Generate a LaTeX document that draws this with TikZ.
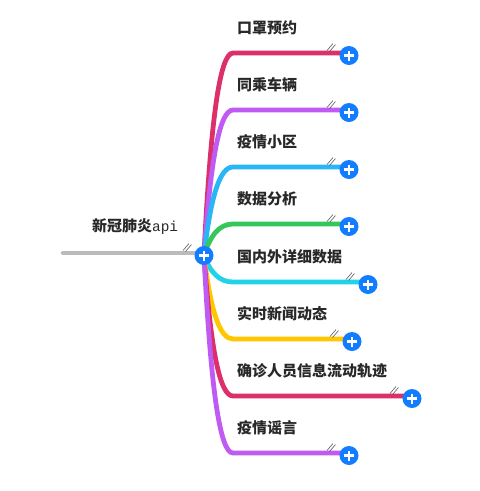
\documentclass[tikz,border=0pt]{standalone}
\usepackage{fontspec}
\newfontfamily\cjk{Noto Sans CJK SC}
\newfontfamily\monof{Liberation Mono}
\usetikzlibrary{calc}
\pgfdeclarelayer{bg}
\pgfsetlayers{bg,main}
\definecolor{cA}{RGB}{219,48,105}
\definecolor{cB}{RGB}{191,90,242}
\definecolor{cC}{RGB}{41,182,246}
\definecolor{cD}{RGB}{52,199,89}
\definecolor{cE}{RGB}{32,211,232}
\definecolor{cF}{RGB}{255,199,0}
\definecolor{rootgray}{RGB}{187,187,187}
\definecolor{btnblue}{RGB}{18,125,255}
\definecolor{txt}{RGB}{40,40,40}
\tikzset{
  plusbtn/.style={circle, fill=btnblue, minimum size=19pt, inner sep=0pt,
    path picture={
      \draw[white, line width=2.6pt] ([xshift=-5pt]path picture bounding box.center) -- ([xshift=5pt]path picture bounding box.center);
      \draw[white, line width=2.6pt] ([yshift=-5pt]path picture bounding box.center) -- ([yshift=5pt]path picture bounding box.center);
    }},
  branchline/.style={line width=4.8pt},
  hashm/.style={draw=black!65, line width=0.6pt},
  lbl/.style={anchor=west, inner sep=0pt, text=txt, font=\fontsize{15}{18}\cjk\bfseries},
}
\begin{document}
\begin{tikzpicture}[x=1pt,y=-1pt]
\useasboundingbox (0,0) rectangle (480,491);
% root
\coordinate (rl) at (63,253);
\node[plusbtn] (rp) at (204,255.5) {};
\node[anchor=west, inner sep=0pt, text=txt] (rt) at (92,227) {{\fontsize{15}{18}\cjk\bfseries 新冠肺炎}{\fontsize{14.4}{18}\monof api}};
\begin{pgfonlayer}{bg}
\draw[rootgray, line width=4.5pt, line cap=round] (rl) -- (rl -| rp.center);
\end{pgfonlayer}
\draw[hashm] ($(rp)+(-21,-5)$) -- +(6,-7);
\draw[hashm] ($(rp)+(-18.5,-4)$) -- +(6,-7);
% branches
\foreach \i/\y/\ex/\col/\txt in {
  1/53/349/cA/口罩预约,
  2/110/349/cB/同乘车辆,
  3/167/349/cC/疫情小区,
  4/224/349/cD/数据分析,
  5/282/368/cE/国内外详细数据,
  6/339/352/cF/实时新闻动态,
  7/396/412/cA/确诊人员信息流动轨迹,
  8/453/349/cB/疫情谣言}{
  \node[plusbtn] (p\i) at (\ex,{\y+2.5}) {};
  \node[lbl] (l\i) at (237,{\y-25}) {\txt};
  \begin{pgfonlayer}{bg}
  \draw[branchline, draw=\col] (rp.center) .. controls ($(rp.center)!0.667!(214,\y)$) and (219.7,\y) .. (233,\y) -- ([yshift=2.5pt]p\i.center);
  \end{pgfonlayer}
  \draw[hashm] ($(p\i)+(-22,-5)$) -- +(6,-7);
  \draw[hashm] ($(p\i)+(-19.5,-4)$) -- +(6,-7);
}
\end{tikzpicture}
\end{document}
